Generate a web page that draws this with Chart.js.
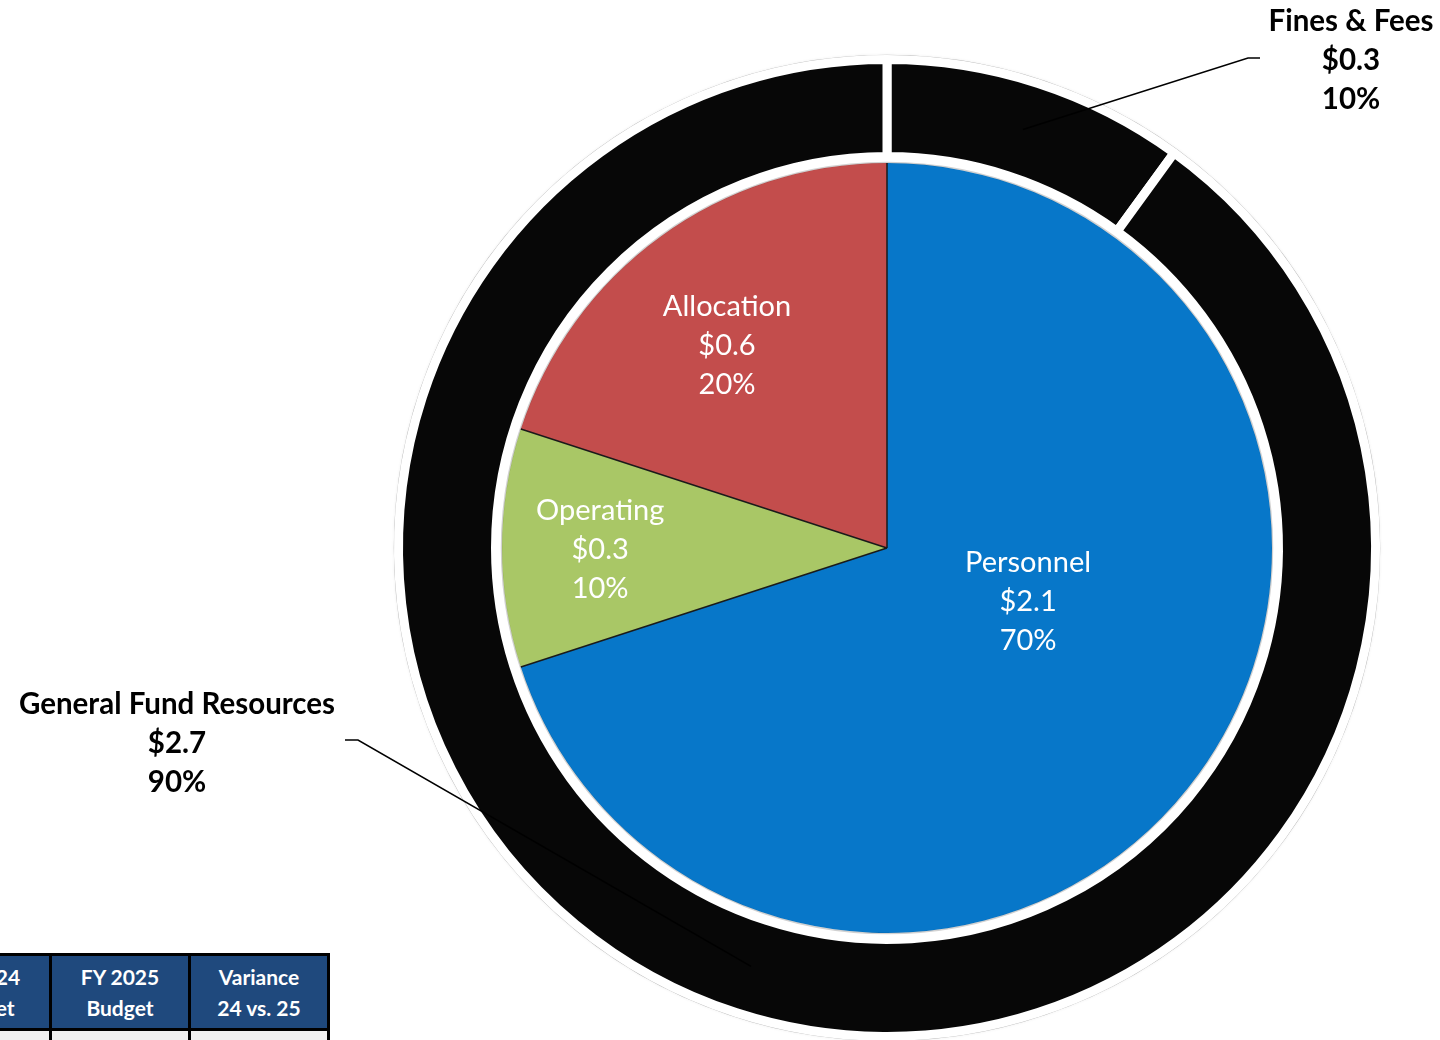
<!DOCTYPE html>
<html>
<head>
<meta charset="utf-8">
<script src="https://cdn.jsdelivr.net/npm/chart.js@4.4.1/dist/chart.umd.min.js"></script>
<style>
  html, body { margin: 0; padding: 0; background: #fff; overflow: hidden; }
  body { width: 1440px; height: 1040px; position: relative; }
  #wrap { position: absolute; left: 0; top: 0; width: 1440px; height: 1100px; }
  #budget-table {
    position: absolute; left: -90px; top: 953px;
    border-collapse: collapse; font-family: Lato, sans-serif; font-weight: bold;
    font-size: 21px; color: #fff;
  }
  #budget-table th {
    background: #1f497d; border: 3px solid #000; width: 136px; height: 72px;
    padding: 0; line-height: 31px; font-weight: bold;
  }
  #budget-table td { background: #f0f0f0; border: 3px solid #000; height: 30px; }
</style>
</head>
<body>
<div id="wrap"><canvas id="fundChart" width="1440" height="1100"></canvas></div>
<table id="budget-table"><thead><tr id="head-row"></tr></thead><tbody><tr id="body-row"></tr></tbody></table>
<script>
// --- Datos ---
const sourceLabels = ['Fines & Fees', 'General Fund Resources'];
const sourceValues = [0.3, 2.7];
const useLabels = ['Personnel', 'Operating', 'Allocation'];
const useValues = [2.1, 0.3, 0.6];
const useColors = ['#0777c9', '#a9c766', '#c34d4c'];
const tableHeaders = [['FY 2024', 'Budget'], ['FY 2025', 'Budget'], ['Variance', '24 vs. 25']];

// --- Tabla de presupuesto ---
const headRow = document.getElementById('head-row');
const bodyRow = document.getElementById('body-row');
tableHeaders.forEach(h => {
    const th = document.createElement('th');
    th.innerHTML = h.join('<br>');
    headRow.appendChild(th);
    bodyRow.appendChild(document.createElement('td'));
});

const sum = arr => arr.reduce((a, b) => a + b, 0);
const pct = (v, arr) => Math.round(v / sum(arr) * 100) + '%';
const money = v => '$' + v.toFixed(1);

// posición de etiquetas interiores: [ángulo desde arriba en grados, fracción del radio]
const innerLabelPlace = [[110, 0.39], [270, 0.745], [322, 0.675]];
// llamadas exteriores: centro del texto y el tramo horizontal de la guía
const calloutPlace = [
    { x: 1351, y: 21, stub: [1260, 58, 1248, 58] },
    { x: 177, y: 704, stub: [345, 740, 358, 740] }
];
const LINE_H = 39;

const labelsPlugin = {
    id: 'fundLabels',
    beforeDatasetsDraw(chart) {
        // contorno suave alrededor del anillo exterior
        const arc = chart.getDatasetMeta(0).data[0];
        const ctx = chart.ctx;
        ctx.save();
        ctx.beginPath();
        ctx.arc(arc.x, arc.y, arc.outerRadius + 4, 0, Math.PI * 2);
        ctx.strokeStyle = 'rgba(0,0,0,0.28)';
        ctx.lineWidth = 1.5;
        ctx.shadowColor = 'rgba(0,0,0,0.3)';
        ctx.shadowBlur = 3;
        ctx.stroke();
        ctx.restore();
    },
    afterDatasetsDraw(chart) {
        const ctx = chart.ctx;
        ctx.save();

        // borde suave del pastel y separadores oscuros entre porciones
        const pie = chart.getDatasetMeta(2).data;
        const c = pie[0];
        ctx.beginPath();
        ctx.arc(c.x, c.y, c.outerRadius + 0.5, 0, Math.PI * 2);
        ctx.strokeStyle = 'rgba(0,0,0,0.18)';
        ctx.lineWidth = 1.5;
        ctx.stroke();
        ctx.strokeStyle = '#1a1a1a';
        ctx.lineWidth = 1.5;
        pie.forEach(el => {
            ctx.beginPath();
            ctx.moveTo(el.x, el.y);
            ctx.lineTo(el.x + Math.cos(el.startAngle) * el.outerRadius,
                       el.y + Math.sin(el.startAngle) * el.outerRadius);
            ctx.stroke();
        });

        ctx.textAlign = 'center';
        ctx.textBaseline = 'middle';

        // etiquetas dentro del pastel
        ctx.fillStyle = '#fff';
        ctx.font = '29px Lato, sans-serif';
        pie.forEach((el, i) => {
            const [deg, frac] = innerLabelPlace[i];
            const a = deg * Math.PI / 180;
            const cx = el.x + Math.sin(a) * el.outerRadius * frac;
            const cy = el.y - Math.cos(a) * el.outerRadius * frac + 2;
            const lines = [useLabels[i], money(useValues[i]), pct(useValues[i], useValues)];
            lines.forEach((t, k) => ctx.fillText(t, cx, cy + (k - 1) * LINE_H));
        });

        // llamadas del anillo exterior con líneas guía
        ctx.fillStyle = '#000';
        ctx.strokeStyle = '#000';
        ctx.lineWidth = 1.5;
        ctx.font = 'bold 29.5px Lato, sans-serif';
        chart.getDatasetMeta(0).data.forEach((el, i) => {
            const p = calloutPlace[i];
            const lines = [sourceLabels[i], money(sourceValues[i]), pct(sourceValues[i], sourceValues)];
            lines.forEach((t, k) => ctx.fillText(t, p.x, p.y + k * LINE_H));
            const mid = (el.startAngle + el.endAngle) / 2;
            const r = (el.innerRadius + el.outerRadius) / 2;
            ctx.beginPath();
            ctx.moveTo(p.stub[0], p.stub[1]);
            ctx.lineTo(p.stub[2], p.stub[3]);
            ctx.lineTo(el.x + Math.cos(mid) * r, el.y + Math.sin(mid) * r);
            ctx.stroke();
        });
        ctx.restore();
    }
};

new Chart(document.getElementById('fundChart'), {
    type: 'pie',
    data: {
        labels: useLabels,
        datasets: [
            {
                label: 'Sources',
                data: sourceValues,
                backgroundColor: '#070707',
                borderColor: '#ffffff',
                borderWidth: 9,
                weight: 97
            },
            {
                label: 'gap',
                data: [1],
                backgroundColor: 'rgba(0,0,0,0)',
                borderWidth: 0,
                weight: 6.5
            },
            {
                label: 'Uses',
                data: useValues,
                backgroundColor: useColors,
                borderWidth: 0,
                weight: 385
            }
        ]
    },
    options: {
        responsive: false,
        animation: false,
        layout: { padding: { left: 394, top: 55, right: 60, bottom: 59 } },
        plugins: {
            legend: { display: false },
            tooltip: { enabled: false }
        }
    },
    plugins: [labelsPlugin]
});
</script>
</body>
</html>
